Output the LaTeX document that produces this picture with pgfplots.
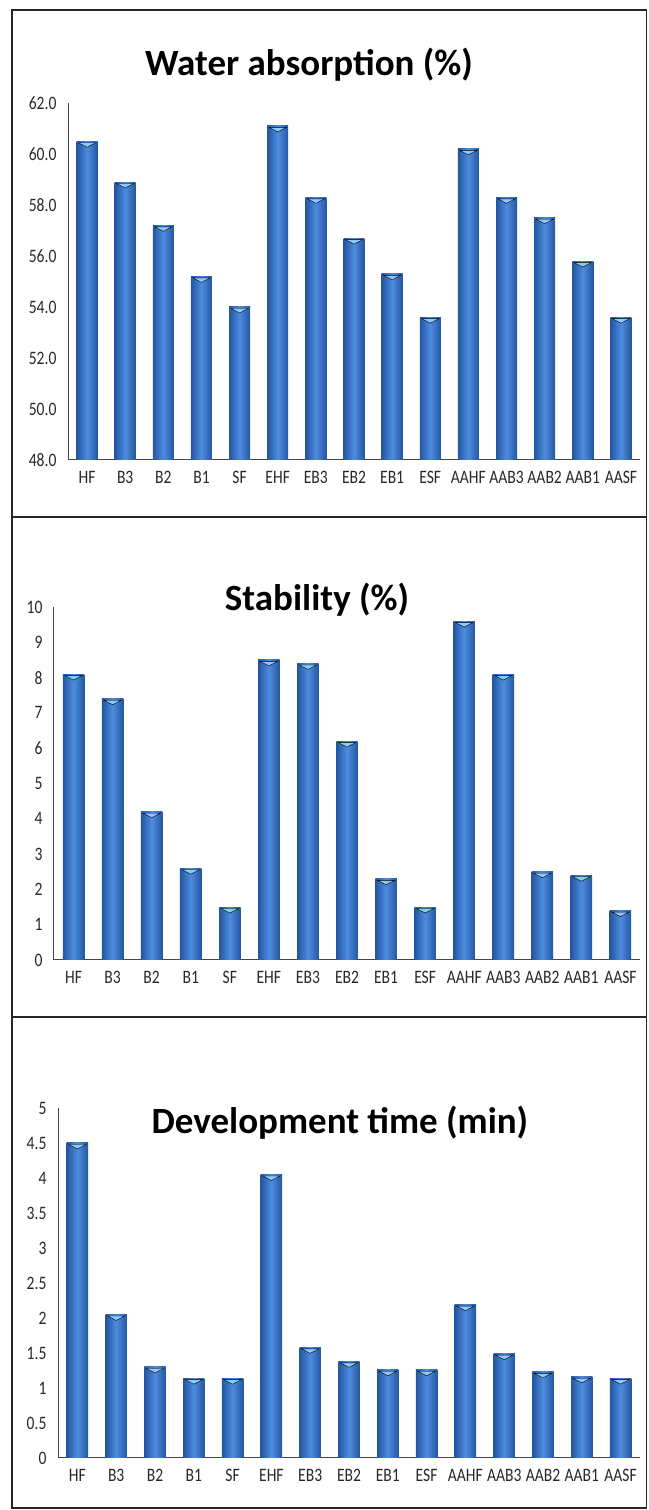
\documentclass[border=0pt]{standalone}
\usepackage{pgfplots}
\pgfplotsset{compat=1.18}
\usepackage{fontspec}
\setmainfont{Carlito}
\newfontfamily\tickfont[FakeStretch=0.82]{Carlito}
\definecolor{barMid}{RGB}{78,140,222}
\definecolor{barDark}{RGB}{36,86,162}
\definecolor{capc}{RGB}{140,200,250}
\definecolor{axisgray}{RGB}{70,70,70}
\definecolor{labgray}{RGB}{40,40,40}

\pgfplotsset{
  excelbar/.style={
    scale only axis,
    anchor=south west,
    xmin=-0.5, xmax=14.5,
    axis x line=bottom, axis y line=left,
    axis line style={-, draw=axisgray, line width=1pt},
    xtick={0,...,14},
    xticklabels={HF,B3,B2,B1,SF,EHF,EB3,EB2,EB1,ESF,AAHF,AAB3,AAB2,AAB1,AASF},
    major tick length=0pt,
    tick label style={font=\tickfont\fontsize{19}{19}\selectfont, text=labgray},
    xticklabel style={yshift=-8pt},
    yticklabel style={xshift=-8pt},
    /pgf/number format/assume math mode=true,
  },
  barstyle/.style={ybar, bar width=0.55, draw=none,
    left color=barDark, right color=barDark, middle color=barMid},
  capstyle/.style={only marks, mark=triangle*, mark size=5pt,
    mark options={draw=none, fill=capc, yshift=-3pt, rotate=180, xscale=2, yscale=0.6}},
}
\newcommand{\onebar}[2]{\addplot[barstyle] coordinates {(#1,#2)};}

\begin{document}
\begin{tikzpicture}[x=1pt,y=1pt]
\useasboundingbox (0pt,0pt) rectangle (648pt,1510pt);

% frame
\draw[line width=1.5pt, black!85] (12pt,2pt) rectangle (646.5pt,1500pt);
\draw[line width=1.5pt, black!85] (12pt,993pt) -- (646.5pt,993pt);
\draw[line width=1.5pt, black!85] (12pt,493pt) -- (646.5pt,493pt);

% Panel 1
\begin{axis}[excelbar, at={(68pt,1050pt)}, width=572pt, height=357pt,
  ymin=48, ymax=62, ytick={48,50,...,62},
  yticklabel style={/pgf/number format/.cd, fixed, fixed zerofill, precision=1}]
\onebar{0}{60.5}\onebar{1}{58.9}\onebar{2}{57.2}\onebar{3}{55.2}\onebar{4}{54.0}
\onebar{5}{61.1}\onebar{6}{58.3}\onebar{7}{56.7}\onebar{8}{55.3}\onebar{9}{53.6}
\onebar{10}{60.2}\onebar{11}{58.3}\onebar{12}{57.5}\onebar{13}{55.8}\onebar{14}{53.6}
\addplot[capstyle] coordinates {(0,60.5) (1,58.9) (2,57.2) (3,55.2) (4,54.0) (5,61.1) (6,58.3) (7,56.7) (8,55.3) (9,53.6) (10,60.2) (11,58.3) (12,57.5) (13,55.8) (14,53.6)};
\end{axis}
\node[font=\bfseries\fontsize{37}{37}\selectfont] at (309pt,1445pt) {Water absorption (\%)};

% Panel 2
\begin{axis}[excelbar, at={(54pt,550pt)}, width=586pt, height=353pt,
  ymin=0, ymax=10, ytick={0,1,...,10}]
\onebar{0}{8.1}\onebar{1}{7.4}\onebar{2}{4.2}\onebar{3}{2.6}\onebar{4}{1.5}
\onebar{5}{8.5}\onebar{6}{8.4}\onebar{7}{6.2}\onebar{8}{2.3}\onebar{9}{1.5}
\onebar{10}{9.6}\onebar{11}{8.1}\onebar{12}{2.5}\onebar{13}{2.4}\onebar{14}{1.4}
\addplot[capstyle] coordinates {(0,8.1) (1,7.4) (2,4.2) (3,2.6) (4,1.5) (5,8.5) (6,8.4) (7,6.2) (8,2.3) (9,1.5) (10,9.6) (11,8.1) (12,2.5) (13,2.4) (14,1.4)};
\end{axis}
\node[font=\bfseries\fontsize{37}{37}\selectfont] at (317pt,910pt) {Stability (\%)};

% Panel 3
\begin{axis}[excelbar, at={(58pt,52pt)}, width=582pt, height=350pt,
  ymin=0, ymax=5, ytick={0,0.5,...,5},
  yticklabel style={/pgf/number format/.cd, fixed}]
\onebar{0}{4.5}\onebar{1}{2.05}\onebar{2}{1.3}\onebar{3}{1.14}\onebar{4}{1.14}
\onebar{5}{4.05}\onebar{6}{1.58}\onebar{7}{1.38}\onebar{8}{1.26}\onebar{9}{1.26}
\onebar{10}{2.19}\onebar{11}{1.49}\onebar{12}{1.23}\onebar{13}{1.16}\onebar{14}{1.14}
\addplot[capstyle] coordinates {(0,4.5) (1,2.05) (2,1.3) (3,1.14) (4,1.14) (5,4.05) (6,1.58) (7,1.38) (8,1.26) (9,1.26) (10,2.19) (11,1.49) (12,1.23) (13,1.16) (14,1.14)};
\end{axis}
\node[font=\bfseries\fontsize{37}{37}\selectfont] at (340pt,387pt) {Development time (min)};
\end{tikzpicture}
\end{document}
